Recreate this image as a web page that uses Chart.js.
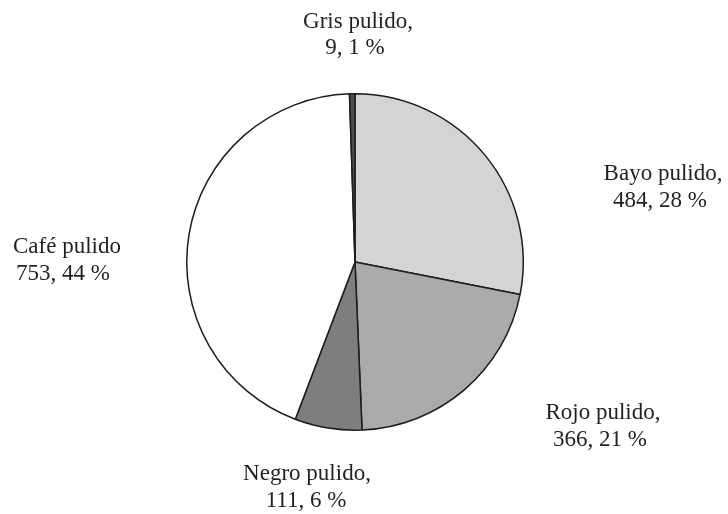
<!DOCTYPE html>
<html>
<head>
<meta charset="utf-8">
<script src="https://cdn.jsdelivr.net/npm/chart.js@4/dist/chart.umd.min.js"></script>
<style>
  html, body { margin: 0; padding: 0; background: #fff; }
  #wrap { width: 728px; height: 514px; position: relative; }
</style>
</head>
<body>
<div id="wrap"><canvas id="pieChart"></canvas></div>
<script>
// pulido types, clockwise from 12 o'clock
const categories = ['Bayo pulido', 'Rojo pulido', 'Negro pulido', 'Café pulido', 'Gris pulido'];
const counts = [484, 366, 111, 753, 9];
const labelTitles = ['Bayo pulido,', 'Rojo pulido,', 'Negro pulido,', 'Café pulido', 'Gris pulido,'];

const sliceColors = ['#d3d4d6', '#a9aaac', '#7d7e80', '#ffffff', '#4b4c4e'];

// where each two-line label goes: [x1, y1, x2, y2] (text centre, baseline)
const labelSpots = [
  [663, 180, 660, 207],
  [603, 419, 600, 446],
  [307, 480, 306, 507],
  [67, 253, 63, 280],
  [358, 28, 355, 54]
];

const total = counts.reduce((a, b) => a + b, 0);

// draws "Name," / "value, pct %" next to every slice
const sliceLabels = {
  id: 'sliceLabels',
  afterDraw(chart) {
    const ctx = chart.ctx;
    ctx.save();
    ctx.fillStyle = '#231f20';
    ctx.font = '23px "Liberation Serif", "Times New Roman", serif';
    ctx.textAlign = 'center';
    ctx.textBaseline = 'alphabetic';
    chart.data.datasets[0].data.forEach((v, i) => {
      const pct = Math.round(v / total * 100);
      const p = labelSpots[i];
      ctx.fillText(labelTitles[i], p[0], p[1]);
      ctx.fillText(v + ', ' + pct + ' %', p[2], p[3]);
    });
    ctx.restore();
  }
};

const ctx = document.getElementById('pieChart').getContext('2d');

new Chart(ctx, {
  type: 'pie',
  data: {
    labels: categories,
    datasets: [{
      data: counts,
      backgroundColor: sliceColors,
      borderColor: '#1c1c1c',
      borderWidth: 1.5
    }]
  },
  options: {
    responsive: true,
    maintainAspectRatio: false,
    animation: false,
    layout: {
      padding: { top: 93, bottom: 83, left: 185, right: 203 }
    },
    plugins: {
      legend: { display: false },
      tooltip: { enabled: false }
    }
  },
  plugins: [sliceLabels]
});
</script>
</body>
</html>
